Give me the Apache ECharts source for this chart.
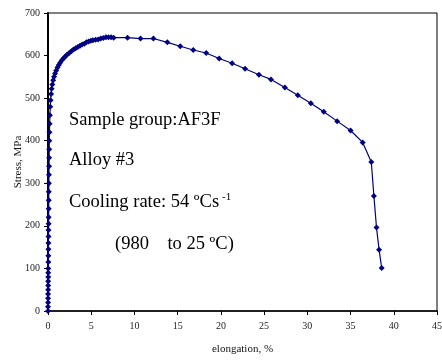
<!DOCTYPE html>
<html>
<head>
<meta charset="utf-8">
<script src="https://cdn.jsdelivr.net/npm/echarts@6/dist/echarts.min.js"></script>
<style>html,body{margin:0;padding:0;background:#fff}#c{width:442px;height:360px}</style>
</head>
<body>
<div id="c"></div>
<script>
// elongation (%) values
var elongation = [0,0,0.01,0.01,0.01,0.02,0.02,0.02,0.03,0.03,0.03,0.04,0.04,0.05,0.05,0.06,0.06,0.07,0.07,0.08,0.09,0.09,0.10,0.11,0.12,0.13,0.14,0.15,0.17,0.19,0.22,0.26,0.30,0.36,0.42,0.50,0.6,0.7,0.82,0.95,1.1,1.25,1.4,1.6,1.8,2.0,2.2,2.45,2.7,2.95,3.2,3.45,3.7,3.95,4.2,4.45,4.7,4.95,5.2,5.5,5.8,6.1,6.4,6.7,7.0,7.3,7.6,9.2,10.7,12.2,13.8,15.3,16.8,18.3,19.8,21.3,22.8,24.4,25.8,27.4,28.9,30.4,31.9,33.45,35.0,36.4,37.4,37.7,38.0,38.3,38.6];
// stress (MPa) values
var stress = [0,10,20,30,40,50,60,70,80,90,100,115,130,145,160,175,190,205,220,240,260,280,300,320,340,360,380,400,420,440,460,480,495,510,522,532,542,550,558,565,572,578,583,589,594,598,602,606,610,614,617,620,623,626,628,631,633,635,636,637,638,640,641,643,643,643,642,642,640,640,631,622,613,606,593,582,569,555,544,525,507,488,468,446,424,396,350,270,196,144,101];
var xTicks = [0,5,10,15,20,25,30,35,40,45];
var yTicks = [0,100,200,300,400,500,600,700];
var notes = ['Sample group:AF3F', 'Alloy #3', 'Cooling rate: 54 ºCs', '(980    to 25 ºC)'];
var superscript = '-1';

var pts = elongation.map(function(x, i){ return [x, stress[i]]; });
var serif = '"Liberation Serif", "Times New Roman", serif';
var chart = echarts.init(document.getElementById('c'), null, {renderer:'canvas'});
chart.setOption({
  animation: false,
  backgroundColor: '#fff',
  grid: {left: 48, top: 13, right: 5, bottom: 49, containLabel: false, outerBoundsMode: 'none', show: true, borderColor: '#000', borderWidth: 1},
  xAxis: {
    type: 'value', min: xTicks[0], max: xTicks[xTicks.length-1], interval: 5,
    name: 'elongation, %', nameLocation: 'middle', nameGap: 33, nameMoveOverlap: false,
    nameTextStyle: {fontFamily: serif, fontSize: 11, color: '#111'},
    axisLine: {show: true, lineStyle: {color: '#000', width: 1.5}},
    axisTick: {show: true, length: 4, lineStyle: {color: '#000'}},
    axisLabel: {fontFamily: serif, fontSize: 10, color: '#222', margin: 10},
    splitLine: {show: false}
  },
  yAxis: {
    type: 'value', min: yTicks[0], max: yTicks[yTicks.length-1], interval: 100,
    name: 'Stress, MPa', nameLocation: 'middle', nameGap: 24, nameMoveOverlap: false,
    nameTextStyle: {fontFamily: serif, fontSize: 11, color: '#111'},
    axisLine: {show: true, lineStyle: {color: '#000', width: 2}},
    axisTick: {show: true, length: 4, lineStyle: {color: '#000'}},
    axisLabel: {fontFamily: serif, fontSize: 10, color: '#222', margin: 8},
    splitLine: {show: false}
  },
  series: [{
    type: 'line', data: pts, symbol: 'diamond', symbolSize: 6,
    showAllSymbol: true,
    lineStyle: {color: '#000080', width: 1.2},
    itemStyle: {color: '#000080'}
  }],
  graphic: [
    {type: 'text', left: 69, top: 111, style: {text: notes[0], font: '18.5px ' + serif, fill: '#000'}},
    {type: 'text', left: 69, top: 151, style: {text: notes[1], font: '18.5px ' + serif, fill: '#000'}},
    {type: 'text', left: 69, top: 193, style: {text: notes[2], font: '18.5px ' + serif, fill: '#000'}},
    {type: 'text', left: 222, top: 192, style: {text: superscript, font: '11px ' + serif, fill: '#000'}},
    {type: 'text', left: 115, top: 235, style: {text: notes[3], font: '18.5px ' + serif, fill: '#000'}}
  ]
});
</script>
</body>
</html>
